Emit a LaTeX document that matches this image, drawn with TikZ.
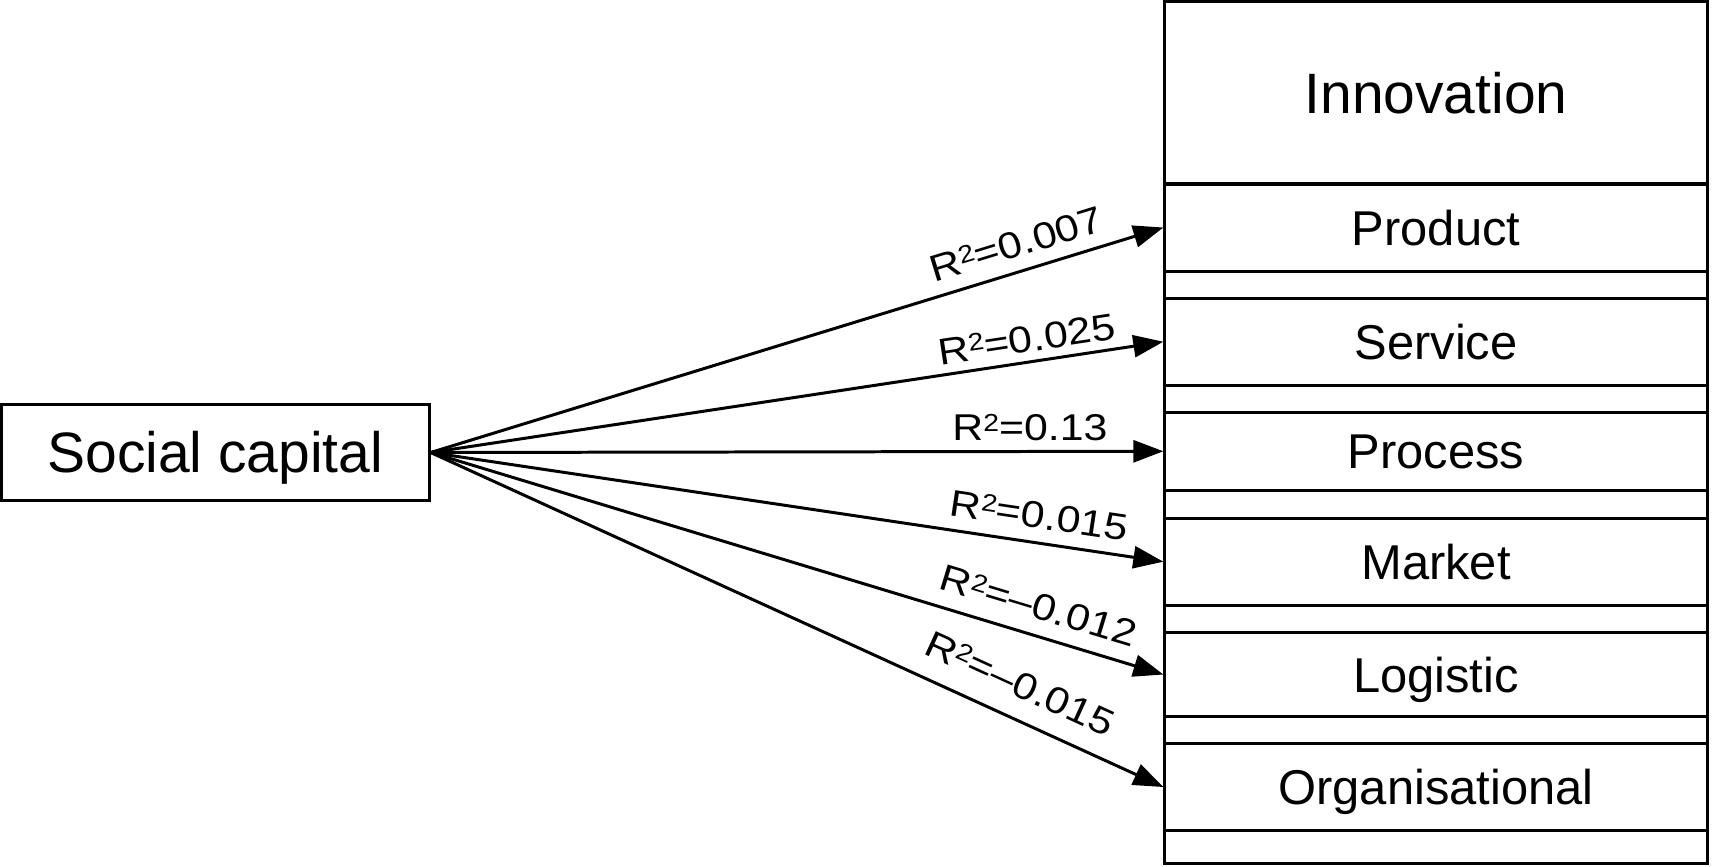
\documentclass[tikz,border=0pt]{standalone}
\usepackage{fontspec}
\setmainfont{Liberation Sans}
\newfontfamily\rlabfont[FakeStretch=1.15]{Liberation Sans}
\usetikzlibrary{arrows.meta}
\newcommand{\rsq}[1]{R\raisebox{0.245em}{\fontsize{7pt}{7pt}\selectfont 2}=#1}
\begin{document}
\begin{tikzpicture}[x=0.01cm,y=-0.01cm,
  frameline/.style={draw, line width=0.85pt, inner sep=0pt},
  box/.style={frameline, minimum width=5.42cm, text height=9.95pt, text depth=0pt,
    font=\fontsize{13.9pt}{16pt}\selectfont},
  bigtext/.style={text height=11.6pt, font=\fontsize{16.2pt}{19pt}\selectfont},
  conn/.style={line width=0.85pt, -{Triangle[length=0.3cm,width=0.22cm]}},
  rlab/.style={sloped, inner sep=0pt, text height=7.6pt, text depth=0pt,
    font=\rlabfont\fontsize{10.6pt}{12pt}\selectfont}]
\useasboundingbox (0,0) rectangle (1712,866);
% right column
\node[frameline, minimum width=5.42cm, minimum height=8.618cm] (frame) at (1436,432.4) {};
\node[box, bigtext, minimum height=1.825cm] (innov) at (1436,92.75) {Innovation};
\node[box, minimum height=0.87cm] (product) at (1436,227.5) {Product};
\node[box, minimum height=0.867cm] (service) at (1436,341.7) {Service};
\node[box, minimum height=0.775cm] (process) at (1436,451.25) {Process};
\node[box, minimum height=0.867cm] (market) at (1436,561.7) {Market};
\node[box, minimum height=0.844cm] (logistic) at (1436,674.5) {Logistic};
\node[box, minimum height=0.86cm] (org) at (1436,787) {Organisational};
% left box
\node[frameline, bigtext, minimum width=4.273cm, minimum height=0.95cm,
  text depth=0pt] (sc) at (215.35,452.5) {Social capital};
% connectors
\draw[conn] (sc.east) -- (product.west)
  node[rlab, pos=0.81, above=0.13cm] {\rsq{0.007}};
\draw[conn] (sc.east) -- (service.west)
  node[rlab, pos=0.818, above=0.085cm] {\rsq{0.025}};
\draw[conn] (sc.east) -- (process.west)
  node[rlab, pos=0.818, above=0.093cm] {\rsq{0.13}};
\draw[conn] (sc.east) -- (market.west)
  node[rlab, pos=0.825, above=0.13cm] {\rsq{0.015}};
\draw[conn] (sc.east) -- (logistic.west)
  node[rlab, pos=0.818, above=0.15cm] {\rsq{–0.012}};
\draw[conn] (sc.east) -- (org.west)
  node[rlab, pos=0.785, above=0.2cm] {\rsq{–0.015}};
\end{tikzpicture}
\end{document}
